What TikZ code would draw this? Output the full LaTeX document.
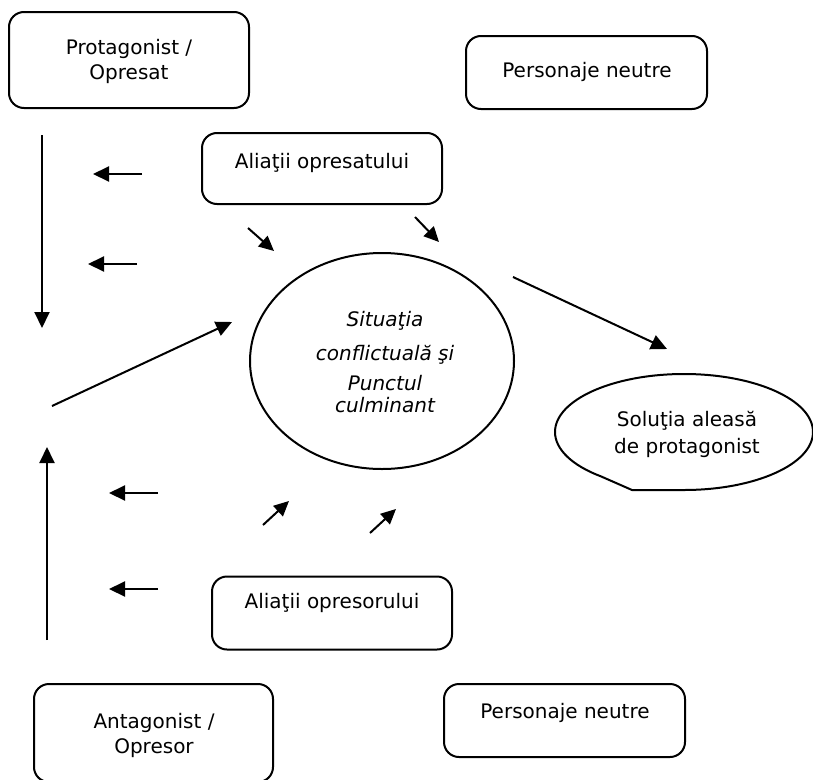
\documentclass[tikz,border=0pt]{standalone}
\usepackage{fontspec}
\setmainfont{DejaVu Sans}
\usetikzlibrary{arrows.meta,calc,shapes.geometric}
\begin{document}
\begin{tikzpicture}[x=1pt,y=-1pt,
  box/.style={draw,line width=2pt,rounded corners=15pt,minimum width=240pt,inner sep=0pt},
  lbl/.style={font=\fontsize{20}{25}\selectfont,align=center,inner sep=0pt},
  arr/.style={line width=2pt,-{Triangle[length=16pt,width=15pt]}},
  sarr/.style={line width=2pt,-{Triangle[length=15pt,width=14pt]}},
]
\useasboundingbox (0,0) rectangle (813,779);
% boxes
\node[box,minimum height=96pt] (prot) at (129,60) {};
\node[lbl] (protl) at (129,61) {Protagonist /\\Opresat};
\node[box,minimum width=241pt,minimum height=73pt] (pn1) at (586.5,72.5) {};
\node[lbl] (pn1l) at (587,72) {Personaje neutre};
\node[box,minimum height=71pt] (ao1) at (322,168.5) {};
\node[lbl] (ao1l) at (322,163) {Aliaţii opresatului};
\node[box,minimum height=73pt] (ao2) at (332,613) {};
\node[lbl] (ao2l) at (332,603) {Aliaţii opresorului};
\node[box,minimum width=239pt,minimum height=98pt] (ant) at (153.5,733) {};
\node[lbl] (antl) at (154,735) {Antagonist /\\Opresor};
\node[box,minimum width=241pt,minimum height=73pt] (pn2) at (564.5,720.5) {};
\node[lbl] (pn2l) at (565,713) {Personaje neutre};
% central ellipse
\node[draw,ellipse,line width=2pt,minimum width=264pt,minimum height=216pt,inner sep=0pt] (sit) at (382,361) {};
\node[lbl,font=\fontsize{20}{22}\selectfont\itshape] (sitl) at (385,362) {Situaţia\\[12pt]conflictuală şi\\[8pt]Punctul\\culminant};
% solution callout
\coordinate (solc) at (684,432);
\coordinate (cusp) at (632,490);
\draw[line width=2pt] (cusp) -- ($(solc)+(90:129 and 58)$) arc[start angle=90,end angle=-230,x radius=129,y radius=58] -- cycle;
\node[lbl,font=\fontsize{20}{27}\selectfont] (sol) at (687,434) {Soluţia aleasă\\de protagonist};
% arrows
\coordinate (d1s) at (42,135); \coordinate (d1e) at (42,328);
\draw[arr] (d1s) -- (d1e);
\coordinate (l1s) at (142,174); \coordinate (l1e) at (93,174);
\draw[arr] (l1s) -- (l1e);
\coordinate (l2s) at (137,264); \coordinate (l2e) at (88,264);
\draw[arr] (l2s) -- (l2e);
\coordinate (u1s) at (47,640); \coordinate (u1e) at (47,447);
\draw[arr] (u1s) -- (u1e);
\coordinate (l3s) at (158,493); \coordinate (l3e) at (109,493);
\draw[arr] (l3s) -- (l3e);
\coordinate (l4s) at (158,589); \coordinate (l4e) at (109,589);
\draw[arr] (l4s) -- (l4e);
\coordinate (g1s) at (52,406); \coordinate (g1e) at (232,322);
\draw[arr] (g1s) -- (g1e);
\coordinate (g2s) at (513,277); \coordinate (g2e) at (667,349);
\draw[arr] (g2s) -- (g2e);
\coordinate (s1s) at (248,228); \coordinate (s1e) at (274,251);
\draw[sarr] (s1s) -- (s1e);
\coordinate (s2s) at (415,217); \coordinate (s2e) at (439,242);
\draw[sarr] (s2s) -- (s2e);
\coordinate (s3s) at (263,525); \coordinate (s3e) at (289,501);
\draw[sarr] (s3s) -- (s3e);
\coordinate (s4s) at (370,533); \coordinate (s4e) at (396,509);
\draw[sarr] (s4s) -- (s4e);
\end{tikzpicture}
\end{document}
